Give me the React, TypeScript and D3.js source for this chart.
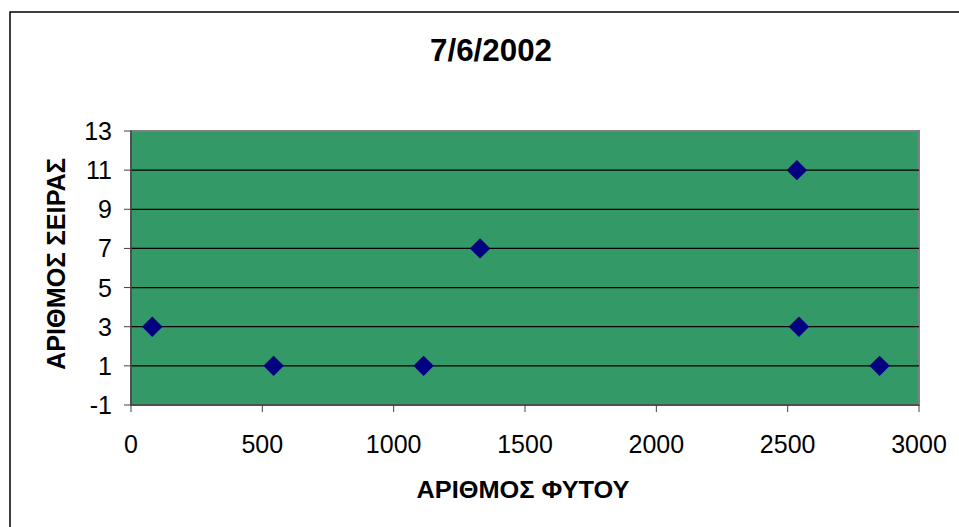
import * as d3 from 'd3'

const title = '7/6/2002'
const xTitle = 'ΑΡΙΘΜΟΣ ΦΥΤΟΥ'
const yTitle = 'ΑΡΙΘΜΟΣ ΣΕΙΡΑΣ'

// plant number vs row number
const plantNumbers = [81, 543, 1114, 1329, 2535, 2543, 2850]
const rowNumbers = [3, 1, 1, 7, 11, 3, 1]

const xTicks = [0, 500, 1000, 1500, 2000, 2500, 3000]
const yTicks = [-1, 1, 3, 5, 7, 9, 11, 13]

const W = 959
const H = 527
const plot = { left: 131, top: 131, right: 919, bottom: 405 }

export default function App() {
  const x = d3.scaleLinear().domain([0, 3000]).range([plot.left, plot.right])
  const y = d3.scaleLinear().domain([-1, 13]).range([plot.bottom, plot.top])
  const font = 'Arial, "Liberation Sans", sans-serif'
  const pts = plantNumbers.map((v, i) => ({ x: v, y: rowNumbers[i] }))
  const sym = d3.symbol().type(d3.symbolDiamond2).size(2 * 11.5 * 11.5)

  return (
    <svg
      width={W}
      height={H}
      style={{ position: 'absolute', left: 0, top: 0, background: '#fff' }}
      fontFamily={font}
    >
      <rect x={10} y={12} width={W} height={H} fill="#fff" stroke="#000" strokeWidth={1.5} />
      <text x={491} y={61} textAnchor="middle" fontSize={31} fontWeight="bold" textLength={122} lengthAdjust="spacingAndGlyphs">
        {title}
      </text>

      <rect
        x={plot.left}
        y={plot.top}
        width={plot.right - plot.left}
        height={plot.bottom - plot.top}
        fill="#339966"
        stroke="#808080"
        strokeWidth={2}
      />
      {yTicks
        .filter((t) => t !== -1 && t !== 13)
        .map((t) => (
          <line key={'g' + t} x1={plot.left} x2={plot.right} y1={y(t)} y2={y(t)} stroke="#000" strokeWidth={1.2} />
        ))}

      {/* y axis */}
      <line x1={plot.left} x2={plot.left} y1={plot.top} y2={plot.bottom} stroke="#404040" strokeWidth={1.5} />
      {yTicks.map((t) => (
        <g key={'y' + t}>
          <line x1={plot.left - 7} x2={plot.left} y1={y(t)} y2={y(t)} stroke="#404040" strokeWidth={1} />
          <text x={112} y={y(t)} dy="0.36em" textAnchor="end" fontSize={25}>
            {t}
          </text>
        </g>
      ))}

      {/* x axis */}
      <line x1={plot.left} x2={plot.right} y1={plot.bottom} y2={plot.bottom} stroke="#404040" strokeWidth={1.5} />
      {xTicks.map((t) => (
        <g key={'x' + t}>
          <line x1={x(t)} x2={x(t)} y1={plot.bottom} y2={plot.bottom + 7} stroke="#404040" strokeWidth={1} />
          <text x={x(t)} y={453} textAnchor="middle" fontSize={25}>
            {t}
          </text>
        </g>
      ))}

      {pts.map((p, i) => (
        <path key={i} d={sym() ?? ''} transform={`translate(${x(p.x)},${y(p.y)})`} fill="#000080" />
      ))}

      <text x={523} y={498} textAnchor="middle" fontSize={23} fontWeight="bold" textLength={213} lengthAdjust="spacingAndGlyphs">
        {xTitle}
      </text>
      <text
        transform="translate(65,264) rotate(-90)"
        textAnchor="middle"
        fontSize={25}
        fontWeight="bold"
        textLength={212}
        lengthAdjust="spacingAndGlyphs"
      >
        {yTitle}
      </text>
    </svg>
  )
}
